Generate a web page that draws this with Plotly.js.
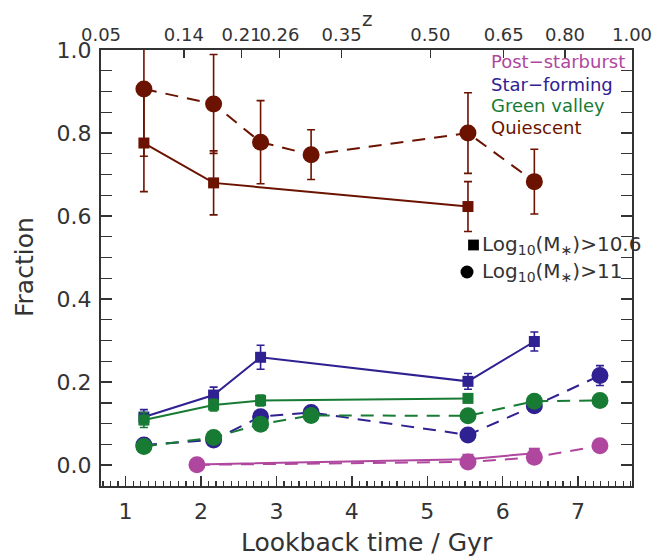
<!DOCTYPE html>
<html>
<head>
<meta charset="utf-8">
<script src="https://cdn.plot.ly/plotly-3.0.1.min.js"></script>
<style>html,body{margin:0;padding:0;background:#fff;}#chart{width:663px;height:558px;}</style>
</head>
<body>
<div id="chart"></div>
<script>
// ---- data (lookback time in Gyr, fraction, error) ----
const qSqT = [1.243, 2.167, 5.54];
const qSqF = [0.776, 0.680, 0.623];
const qSqE = [0.117, 0.077, 0.060];
const qCiT = [1.243, 2.167, 2.79, 3.46, 5.54, 6.42];
const qCiF = [0.906, 0.870, 0.778, 0.748, 0.800, 0.683];
const qCiE = [0.162, 0.119, 0.100, 0.060, 0.097, 0.078];

const sfSqT = [1.243, 2.167, 2.79, 5.54, 6.42];
const sfSqF = [0.116, 0.169, 0.260, 0.202, 0.298];
const sfSqE = [0.018, 0.019, 0.029, 0.019, 0.023];
const sfCiT = [1.243, 2.167, 2.79, 3.46, 5.54, 6.42, 7.29];
const sfCiF = [0.049, 0.061, 0.117, 0.127, 0.073, 0.143, 0.216];
const sfCiE = [0.010, 0.012, 0.012, 0.012, 0.012, 0.015, 0.024];

const gvSqT = [1.243, 2.167, 2.79, 5.54];
const gvSqF = [0.109, 0.145, 0.156, 0.161];
const gvSqE = [0.018, 0.014, 0.013, 0.010];
const gvCiT = [1.243, 2.167, 2.79, 3.46, 5.54, 6.42, 7.29];
const gvCiF = [0.045, 0.067, 0.099, 0.120, 0.119, 0.154, 0.156];
const gvCiE = [0.008, 0.008, 0.008, 0.008, 0.008, 0.010, 0.010];

const psSqT = [1.946, 5.54, 6.42];
const psSqF = [0.002, 0.0145, 0.029];
const psSqE = [0.003, 0.004, 0.006];
const psCiT = [1.946, 5.54, 6.42, 7.29];
const psCiF = [0.001, 0.008, 0.019, 0.047];
const psCiE = [0.002, 0.003, 0.005, 0.008];

// top axis: redshift labels at their lookback times (Gyr)
const zTickLabels = ['0.05', '0.14', '0.21', '0.26', '0.35', '0.50', '0.65', '0.80', '1.00'];
const zTickTimes  = [0.674, 1.772, 2.537, 3.040, 3.864, 5.041, 6.014, 6.827, 7.715];

const classNames = ['Post\u2212starburst', 'Star\u2212forming', 'Green valley', 'Quiescent'];
const classColors = ['#b0479f', '#2f2191', '#177b33', '#6b1300'];
const massLabels = ['Log<sub>10</sub>(M<sub>\u2217</sub>)>10.6', 'Log<sub>10</sub>(M<sub>\u2217</sub>)>11'];

// ---- traces ----
function sq(t, f, e, c, xa) {
  return {x: t, y: f, xaxis: xa || 'x', type: 'scatter', mode: 'lines+markers', showlegend: false,
    line: {color: c, width: 2},
    marker: {symbol: 'square', size: 11, color: c, line: {width: 0}},
    error_y: {type: 'data', array: e, visible: true, color: c, thickness: 1.6, width: 4}};
}
function ci(t, f, e, c, xa) {
  return {x: t, y: f, xaxis: xa || 'x', type: 'scatter', mode: 'lines+markers', showlegend: false,
    line: {color: c, width: 2, dash: '13px,9px'},
    marker: {symbol: 'circle', size: 17, color: c, line: {width: 0}},
    error_y: {type: 'data', array: e, visible: true, color: c, thickness: 1.6, width: 4}};
}
const data = [
  ci(qCiT, qCiF, qCiE, classColors[3]),
  sq(qSqT, qSqF, qSqE, classColors[3]),
  ci(sfCiT, sfCiF, sfCiE, classColors[1]),
  sq(sfSqT, sfSqF, sfSqE, classColors[1]),
  ci(gvCiT, gvCiF, gvCiE, classColors[2]),
  sq(gvSqT, gvSqF, gvSqE, classColors[2]),
  ci(psCiT, psCiF, psCiE, classColors[0], 'x2'),
  sq(psSqT, psSqF, psSqE, classColors[0], 'x2')
];

const axCol = '#333333';
const tickFont = {family: 'DejaVu Sans', size: 22, color: axCol};
const topFont = {family: 'DejaVu Sans', size: 18, color: axCol};
const titleFont = {family: 'DejaVu Sans', size: 25, color: axCol};

const L = 101, R = 31, T = 50, B = 72, W = 663, H = 558;
const pw = W - L - R, ph = H - T - B;
const px = v => (v - L) / pw;
const py = v => (T + ph - v) / ph;

const annotations = [];
const legY = [62, 84, 105.5, 127];
classNames.forEach((n, i) => annotations.push({
  xref: 'paper', yref: 'paper', x: px(489), y: py(legY[i]), xanchor: 'left', yanchor: 'middle',
  text: n, showarrow: false, font: {family: 'DejaVu Sans', size: 18, color: classColors[i]}
}));
const massY = [245, 272];
massLabels.forEach((n, i) => annotations.push({
  xref: 'paper', yref: 'paper', x: px(480), y: py(massY[i]), xanchor: 'left', yanchor: 'middle',
  text: n, showarrow: false, font: {family: 'DejaVu Sans', size: 20, color: axCol}
}));
annotations.push({xref: 'paper', yref: 'paper', x: px(24), y: py(267), textangle: -90,
  xanchor: 'center', yanchor: 'middle', text: 'Fraction', showarrow: false, font: titleFont});
annotations.push({xref: 'paper', yref: 'paper', x: px(367), y: py(542),
  xanchor: 'center', yanchor: 'middle', text: 'Lookback time / Gyr', showarrow: false, font: {family: 'DejaVu Sans', size: 25, color: axCol}});
annotations.push({xref: 'paper', yref: 'paper', x: px(367), y: py(19),
  xanchor: 'center', yanchor: 'middle', text: 'z', showarrow: false, font: {family: 'DejaVu Sans', size: 20, color: axCol}});

const shapes = [
  {type: 'rect', xref: 'paper', yref: 'paper', xsizemode: 'pixel', ysizemode: 'pixel',
   xanchor: px(473.5), yanchor: py(245), x0: -5.4, x1: 5.4, y0: -5.4, y1: 5.4,
   fillcolor: '#000', line: {width: 0}},
  {type: 'circle', xref: 'paper', yref: 'paper', xsizemode: 'pixel', ysizemode: 'pixel',
   xanchor: px(467), yanchor: py(272), x0: -6.5, x1: 6.5, y0: -6.5, y1: 6.5,
   fillcolor: '#000', line: {width: 0}}
];

const xr = [zTickTimes[0], zTickTimes[zTickTimes.length - 1]];
const layout = {
  width: W, height: H,
  margin: {l: L, r: R, t: T, b: B, pad: 0},
  paper_bgcolor: '#fff', plot_bgcolor: '#fff',
  showlegend: false,
  font: tickFont,
  xaxis: {
    range: xr,
    showgrid: false, zeroline: false,
    showline: true, linecolor: axCol, linewidth: 2, mirror: true,
    ticks: 'inside', ticklen: 10, tickwidth: 1.5, tickcolor: axCol,
    tick0: 0, dtick: 1, tickfont: tickFont, ticklabelstandoff: 5, tickangle: 0,
    minor: {dtick: 0.1, ticks: 'inside', ticklen: 5, tickwidth: 1.2, tickcolor: axCol, showgrid: false}
  },
  xaxis2: {
    overlaying: 'x', side: 'top', anchor: 'y',
    range: xr,
    showgrid: false, zeroline: false, showline: false,
    tickmode: 'array', tickvals: zTickTimes, ticktext: zTickLabels, tickangle: 0,
    ticks: 'inside', ticklen: 8, tickwidth: 1.5, tickcolor: axCol,
    tickfont: topFont, ticklabelstandoff: 4
  },
  yaxis: {
    range: [-0.05, 1.0],
    showgrid: false, zeroline: false,
    showline: true, linecolor: axCol, linewidth: 2, mirror: 'allticks',
    ticks: 'inside', ticklen: 11, tickwidth: 1.5, tickcolor: axCol,
    tick0: 0, dtick: 0.2, tickformat: '.1f', tickfont: tickFont, ticklabelstandoff: 3,
    minor: {dtick: 0.05, ticks: 'inside', ticklen: 6, tickwidth: 1.2, tickcolor: axCol, showgrid: false}
  },
  annotations: annotations,
  shapes: shapes
};

Plotly.newPlot('chart', data, layout, {displayModeBar: false, staticPlot: true});
</script>
</body>
</html>
